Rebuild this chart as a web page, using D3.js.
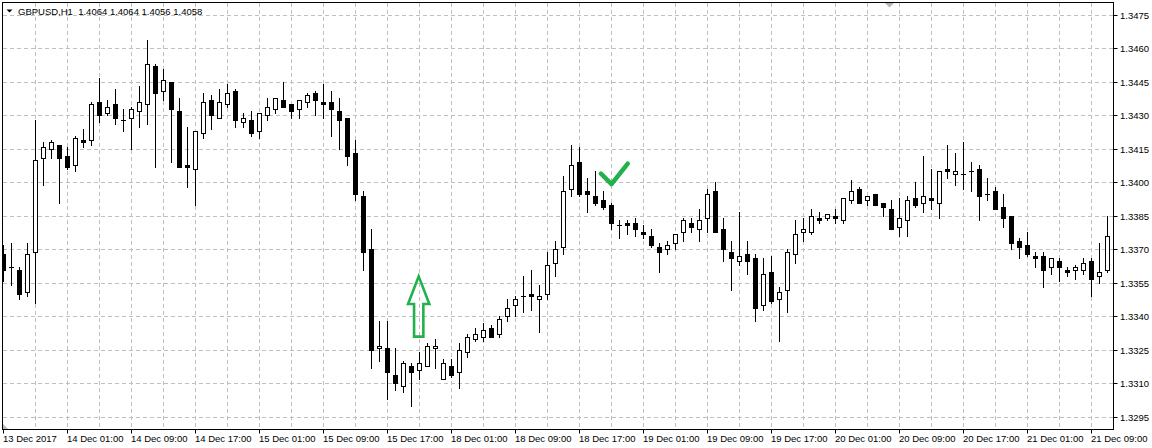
<!DOCTYPE html>
<html><head><meta charset="utf-8">
<script src="https://cdn.jsdelivr.net/npm/d3@7"></script>
<style>html,body{margin:0;padding:0;background:#fff;} svg{display:block;}</style>
</head><body>
<svg id="chart" width="1152" height="448"></svg>
<script>
// ---------------- DATA ----------------
const chartTitle = "GBPUSD,H1  1.4064 1.4064 1.4056 1.4058";

const opens = [
1.3368,1.3362,1.3361,1.3351,1.3369,1.3411,1.3415,1.3417,1.3412,1.3408,
1.3419,1.3419,1.3436,1.3431,1.3435,1.3428,1.3429,1.3432,1.3435,1.3452,
1.3441,1.3445,1.3432,1.3408,1.3406,1.3422,1.3437,1.3429,1.3435,1.3441,
1.3427,1.3428,1.3423,1.3430,1.3433,1.3437,1.3435,1.3433,1.3436,1.3440,
1.3436,1.3436,1.3432,1.3429,1.3413,1.3394,1.3370,1.3326,1.3326,1.3314,
1.3309,1.3318,1.3316,1.3318,1.3326,1.3312,1.3318,1.3315,1.3324,1.3330,
1.3331,1.3335,1.3332,1.3340,1.3345,1.3349,1.3350,1.3348,1.3350,1.3364,
1.3371,1.3397,1.3409,1.3396,1.3394,1.3392,1.3390,1.3381,1.3382,1.3382,
1.3378,1.3376,1.3371,1.3370,1.3373,1.3378,1.3382,1.3379,1.3384,1.3396,
1.3379,1.3369,1.3365,1.3368,1.3366,1.3345,1.3360,1.3348,1.3352,1.3368,
1.3378,1.3378,1.3384,1.3384,1.3385,1.3383,1.3392,1.3397,1.3392,1.3395,
1.3391,1.3388,1.3380,1.3383,1.3393,1.3391,1.3393,1.3391,1.3406,1.3404,
1.3404,1.3405,1.3406,1.3395,1.3396,1.3389,1.3385,1.3374,1.3372,1.3367,
1.3367,1.3362,1.3365,1.3361,1.3361,1.3361,1.3365,1.3358,1.3361];

const highs = [
1.3372,1.3373,1.3362,1.3373,1.3428,1.3418,1.3419,1.3417,1.3416,1.3421,
1.3424,1.3436,1.3447,1.3437,1.3442,1.3433,1.3434,1.3443,1.3464,1.3453,
1.3451,1.3445,1.3438,1.3425,1.3423,1.3440,1.3439,1.3442,1.3444,1.3442,
1.3431,1.3432,1.3431,1.3438,1.3438,1.3445,1.3435,1.3437,1.3440,1.3441,
1.3444,1.3441,1.3438,1.3429,1.3419,1.3396,1.3379,1.3338,1.3338,1.3326,
1.3320,1.3319,1.3324,1.3328,1.3330,1.3321,1.3321,1.3328,1.3332,1.3335,
1.3337,1.3336,1.3340,1.3348,1.3349,1.3358,1.3361,1.3354,1.3369,1.3374,
1.3403,1.3417,1.3416,1.3402,1.3405,1.3396,1.3391,1.3383,1.3383,1.3384,
1.3381,1.3379,1.3373,1.3374,1.3377,1.3384,1.3384,1.3388,1.3397,1.3400,
1.3384,1.3374,1.3387,1.3374,1.3368,1.3366,1.3367,1.3353,1.3370,1.3383,
1.3384,1.3388,1.3387,1.3386,1.3388,1.3393,1.3401,1.3398,1.3394,1.3395,
1.3391,1.3392,1.3393,1.3394,1.3400,1.3412,1.3406,1.3405,1.3417,1.3413,
1.3418,1.3409,1.3408,1.3402,1.3398,1.3395,1.3385,1.3375,1.3378,1.3369,
1.3369,1.3366,1.3366,1.3362,1.3363,1.3366,1.3366,1.3373,1.3385];

const lows = [
1.3356,1.3354,1.3348,1.3349,1.3346,1.3399,1.3411,1.3391,1.3406,1.3405,
1.3416,1.3417,1.3427,1.3430,1.3426,1.3423,1.3415,1.3425,1.3426,1.3407,
1.3437,1.3409,1.3407,1.3398,1.3390,1.3420,1.3424,1.3429,1.3434,1.3425,
1.3425,1.3421,1.3420,1.3428,1.3431,1.3434,1.3429,1.3429,1.3434,1.3430,
1.3429,1.3421,1.3415,1.3408,1.3392,1.3361,1.3317,1.3320,1.3303,1.3307,
1.3306,1.3300,1.3312,1.3318,1.3317,1.3312,1.3313,1.3308,1.3322,1.3329,
1.3329,1.3331,1.3331,1.3338,1.3340,1.3342,1.3343,1.3333,1.3348,1.3358,
1.3368,1.3394,1.3394,1.3387,1.3390,1.3388,1.3379,1.3375,1.3377,1.3376,
1.3375,1.3371,1.3360,1.3368,1.3370,1.3374,1.3378,1.3374,1.3378,1.3378,
1.3365,1.3352,1.3363,1.3359,1.3338,1.3343,1.3346,1.3329,1.3342,1.3364,
1.3374,1.3377,1.3382,1.3383,1.3382,1.3382,1.3391,1.3391,1.3390,1.3390,
1.3385,1.3379,1.3376,1.3376,1.3389,1.3387,1.3388,1.3384,1.3402,1.3399,
1.3397,1.3396,1.3383,1.3392,1.3388,1.3380,1.3370,1.3366,1.3367,1.3362,
1.3353,1.3359,1.3356,1.3358,1.3357,1.3359,1.3349,1.3355,1.3360];

const closes = [
1.3361,1.3362,1.3350,1.3368,1.3410,1.3416,1.3418,1.3411,1.3407,1.3420,
1.3418,1.3435,1.3430,1.3434,1.3429,1.3428,1.3433,1.3436,1.3453,1.3440,
1.3446,1.3433,1.3407,1.3407,1.3423,1.3436,1.3430,1.3436,1.3440,1.3428,
1.3429,1.3422,1.3431,1.3434,1.3438,1.3434,1.3432,1.3437,1.3439,1.3437,
1.3435,1.3433,1.3428,1.3412,1.3395,1.3369,1.3325,1.3327,1.3315,1.3310,
1.3319,1.3315,1.3319,1.3327,1.3327,1.3319,1.3314,1.3325,1.3331,1.3332,
1.3334,1.3331,1.3339,1.3344,1.3348,1.3349,1.3349,1.3349,1.3363,1.3370,
1.3396,1.3408,1.3395,1.3395,1.3391,1.3389,1.3382,1.3381,1.3381,1.3379,
1.3377,1.3372,1.3369,1.3372,1.3377,1.3383,1.3380,1.3383,1.3395,1.3378,
1.3370,1.3366,1.3367,1.3365,1.3344,1.3359,1.3347,1.3351,1.3369,1.3377,
1.3379,1.3385,1.3383,1.3386,1.3384,1.3393,1.3396,1.3391,1.3394,1.3390,
1.3389,1.3379,1.3384,1.3392,1.3390,1.3394,1.3392,1.3405,1.3405,1.3405,
1.3404,1.3405,1.3394,1.3395,1.3388,1.3384,1.3373,1.3371,1.3368,1.3366,
1.3361,1.3366,1.3362,1.3360,1.3362,1.3364,1.3357,1.3360,1.3376];

const priceTicks = [1.3295,1.3310,1.3325,1.3340,1.3355,1.3370,1.3385,1.3400,1.3415,1.3430,1.3445,1.3460,1.3475];

const timeTickIndex = [0,8,16,24,32,40,48,56,64,72,80,88,96,104,112,120,128,136];
const timeTickLabels = ["13 Dec 2017","14 Dec 01:00","14 Dec 09:00","14 Dec 17:00","15 Dec 01:00",
  "15 Dec 09:00","15 Dec 17:00","18 Dec 01:00","18 Dec 09:00","18 Dec 17:00","19 Dec 01:00",
  "19 Dec 09:00","19 Dec 17:00","20 Dec 01:00","20 Dec 09:00","20 Dec 17:00","21 Dec 01:00","21 Dec 09:00"];

// annotations (bar index, price)
const arrowIndex = 51.9;
const arrowPrices = {tip: 1.33582, head: 1.33458, base: 1.33312};
const arrowHalfWidths = {head: 1.33, shaft: 0.58};
const checkIndex = [74.68, 76.0, 78.03];
const checkPrice = [1.34042, 1.33995, 1.34087];

// ---------------- DRAW ----------------
const W = 1152, H = 448;
const svg = d3.select("#chart");
svg.append("rect").attr("width", W).attr("height", H).attr("fill", "#fff");

const plotL = 3, plotR = 1113, plotT = 3, plotB = 429;
const x = d3.scaleLinear().domain([0, opens.length - 1]).range([3.5, 3.5 + 8 * (opens.length - 1)]);
const y = d3.scaleLinear().domain([1.3295, 1.3475]).range([417.5, 15.5]);
const row = v => Math.round(y(v) - 0.5);

svg.append("defs").append("clipPath").attr("id", "plotclip")
  .append("rect").attr("x", plotL).attr("y", plotT).attr("width", plotR - plotL).attr("height", plotB - plotT);

const gridColor = "#c0c0c0";
const grid = svg.append("g").attr("clip-path", "url(#plotclip)");
grid.selectAll("line.h").data(priceTicks).join("line")
  .attr("x1", plotL).attr("x2", plotR)
  .attr("y1", d => row(d) + 0.5).attr("y2", d => row(d) + 0.5)
  .attr("stroke", gridColor).attr("stroke-width", 1).attr("stroke-dasharray", "4,3");
const vIdx = d3.range(4, opens.length, 4);
grid.selectAll("line.v").data(vIdx).join("line")
  .attr("x1", d => x(d)).attr("x2", d => x(d))
  .attr("y1", plotT).attr("y2", plotB)
  .attr("stroke", gridColor).attr("stroke-width", 1).attr("stroke-dasharray", "4,3");

// candles
const candles = svg.append("g").attr("clip-path", "url(#plotclip)");
const data = opens.map((o, i) => ({i, o, h: highs[i], l: lows[i], c: closes[i]}));
data.forEach(d => {
  const cx = x(d.i) - 0.5; // column
  const rh = row(d.h), rl = row(d.l);
  candles.append("rect").attr("x", cx).attr("y", rh).attr("width", 1).attr("height", rl - rh + 1).attr("fill", "#000");
  const top = row(Math.max(d.o, d.c)), bot = row(Math.min(d.o, d.c));
  if (top === bot) {
    candles.append("rect").attr("x", cx - 2).attr("y", top).attr("width", 5).attr("height", 1).attr("fill", "#000");
  } else if (d.c > d.o) {
    candles.append("rect").attr("x", cx - 1.5).attr("y", top + 0.5).attr("width", 4).attr("height", bot - top)
      .attr("fill", "#fff").attr("stroke", "#000").attr("stroke-width", 1);
  } else {
    candles.append("rect").attr("x", cx - 2).attr("y", top).attr("width", 5).attr("height", bot - top + 1).attr("fill", "#000");
  }
});

// frame
svg.append("rect").attr("x", 2.5).attr("y", 2.5).attr("width", plotR - 2).attr("height", plotB - 2)
  .attr("fill", "none").attr("stroke", "#000").attr("stroke-width", 1);

const font = "'Liberation Sans', Arial, sans-serif";
// price axis
const pa = svg.append("g");
pa.selectAll("line").data(priceTicks).join("line")
  .attr("x1", plotR + 0.5).attr("x2", plotR + 4.5)
  .attr("y1", d => row(d) + 0.5).attr("y2", d => row(d) + 0.5)
  .attr("stroke", "#000");
pa.selectAll("text").data(priceTicks).join("text")
  .attr("x", 1120).attr("y", d => row(d) + 0.5).attr("dy", "0.35em")
  .attr("font-family", font).attr("font-size", "9.5px").attr("fill", "#000")
  .text(d => d.toFixed(4));

// time axis
const ta = svg.append("g");
ta.selectAll("line").data(timeTickIndex).join("line")
  .attr("x1", d => x(d)).attr("x2", d => x(d)).attr("y1", plotB + 0.5).attr("y2", plotB + 4.5)
  .attr("stroke", "#000");
ta.selectAll("text").data(timeTickIndex).join("text")
  .attr("x", d => x(d) - 0.5).attr("y", 441.5)
  .attr("font-family", font).attr("font-size", "9.5px").attr("fill", "#000")
  .text((d, k) => timeTickLabels[k]);

// title
svg.append("path").attr("d", "M6.5,9.5 L12.5,9.5 L9.5,12.5 Z").attr("fill", "#000");
svg.append("text").attr("x", 18).attr("y", 14.5)
  .attr("font-family", font).attr("font-size", "9.5px").attr("fill", "#000")
  .attr("xml:space", "preserve").style("white-space", "pre")
  .text(chartTitle);

// small gray markers
svg.append("path").attr("d", "M885,3 L894,3 L889.5,7.5 Z").attr("fill", "#b4b4b4");
svg.append("path").attr("d", "M3,424 L3,429 L8,429 Z").attr("fill", "#b8b8b8");

// green arrow annotation
const ax = x(arrowIndex), hw = arrowHalfWidths.head * 8, sw = arrowHalfWidths.shaft * 8;
const ytip = y(arrowPrices.tip), yhead = y(arrowPrices.head), ybase = y(arrowPrices.base);
const arrowPath = d3.path();
arrowPath.moveTo(ax, ytip);
arrowPath.lineTo(ax + hw, yhead);
arrowPath.lineTo(ax + sw, yhead);
arrowPath.lineTo(ax + sw, ybase);
arrowPath.lineTo(ax - sw, ybase);
arrowPath.lineTo(ax - sw, yhead);
arrowPath.lineTo(ax - hw, yhead);
arrowPath.closePath();
svg.append("path").attr("d", arrowPath.toString()).attr("fill", "none")
  .attr("stroke", "#22b14c").attr("stroke-width", 2.6).attr("stroke-linejoin", "miter");

// green checkmark
const checkLine = d3.line().x(d => x(d[0])).y(d => y(d[1]));
svg.append("path").attr("d", checkLine(checkIndex.map((v, k) => [v, checkPrice[k]])))
  .attr("fill", "none").attr("stroke", "#22b14c").attr("stroke-width", 4.5)
  .attr("stroke-linecap", "round").attr("stroke-linejoin", "round");
</script>
</body></html>
